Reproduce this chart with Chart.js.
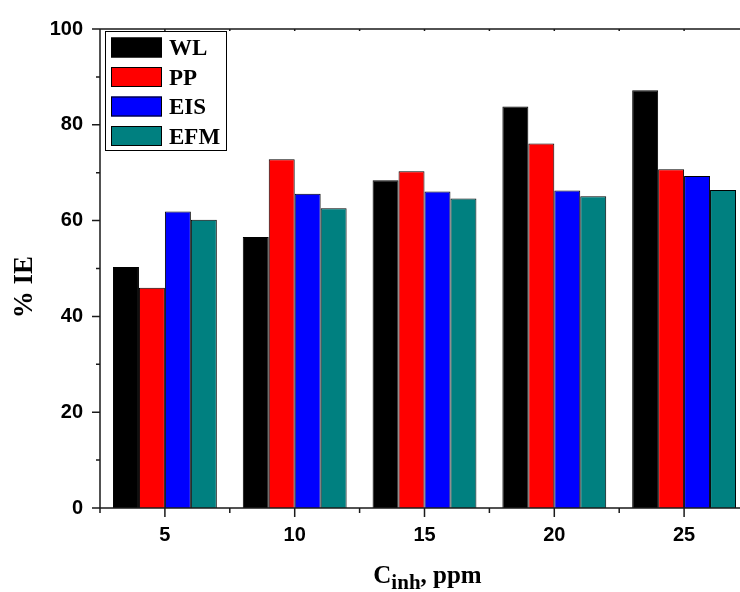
<!DOCTYPE html>
<html>
<head>
<meta charset="utf-8">
<script src="https://cdn.jsdelivr.net/npm/chart.js@4"></script>
<style>
  html, body { margin: 0; padding: 0; background: #fff; }
  #wrap { width: 740px; height: 592px; overflow: hidden; position: relative; }
</style>
</head>
<body>
<div id="wrap"><canvas id="canvas" width="760" height="592"></canvas></div>
<script>
// concentration of inhibitor (ppm) and % inhibition efficiency by method
let labels = ['5', '10', '15', '20', '25'];
let wl  = [50.3, 56.6, 68.4, 83.8, 87.2];
let pp  = [46.0, 72.8, 70.3, 76.1, 70.7];
let eis = [61.9, 65.6, 66.1, 66.3, 69.3];
let efm = [60.2, 62.6, 64.6, 65.1, 66.4];
let names = ['WL', 'PP', 'EIS', 'EFM'];
let colors = ['#000000', '#ff0000', '#0000ff', '#008080'];

let serif = "'Liberation Serif', 'Times New Roman', serif";
let sans = "'Liberation Sans', Arial, sans-serif";

let series = [wl, pp, eis, efm];
let datasets = series.map(function (vals, i) {
  return {
    label: names[i],
    data: vals,
    backgroundColor: colors[i],
    borderColor: '#000',
    borderWidth: 1,
    categoryPercentage: 0.8,
    barPercentage: 1.0
  };
});

// frame, ticks, titles and the boxed legend
let decor = {
  id: 'decor',
  afterDraw: function (chart) {
    let ctx = chart.ctx;
    let x = chart.scales.x, y = chart.scales.y;
    let a = chart.chartArea;
    ctx.save();
    ctx.strokeStyle = '#1a1a1a';
    ctx.lineWidth = 1.5;
    ctx.beginPath();
    ctx.moveTo(a.left, a.bottom); ctx.lineTo(a.left, a.top); ctx.lineTo(chart.width, a.top);
    ctx.moveTo(a.left, a.bottom); ctx.lineTo(chart.width, a.bottom);
    // y ticks
    for (let v = 0; v <= 100; v += 10) {
      let py = y.getPixelForValue(v);
      let len = v % 20 === 0 ? 8 : 4;
      ctx.moveTo(a.left - len, py); ctx.lineTo(a.left, py);
    }
    // x ticks
    let n = labels.length;
    let step = x.getPixelForTick(1) - x.getPixelForTick(0);
    for (let i = 0; i < n; i++) {
      let px = x.getPixelForTick(i);
      ctx.moveTo(px, a.bottom); ctx.lineTo(px, a.bottom + 9);
      ctx.moveTo(px, a.top); ctx.lineTo(px, a.top + 2);
      let mx = px - step / 2;
      ctx.moveTo(mx, a.bottom); ctx.lineTo(mx, a.bottom + 5);
      ctx.moveTo(mx, a.top); ctx.lineTo(mx, a.top + 2);
    }
    ctx.stroke();

    ctx.fillStyle = '#000';
    // y title
    ctx.save();
    ctx.translate(32, 287);
    ctx.rotate(-Math.PI / 2);
    ctx.font = 'bold 27px ' + serif;
    ctx.textAlign = 'center';
    ctx.textBaseline = 'alphabetic';
    ctx.fillText('% IE', 0, 0);
    ctx.restore();

    // x title with subscript
    let big = 'bold 25px ' + serif, small = 'bold 21px ' + serif;
    ctx.font = big; let w1 = ctx.measureText('C').width;
    let w3 = ctx.measureText(', ppm').width;
    ctx.font = small; let w2 = ctx.measureText('inh').width;
    let cx = (a.left + a.right) / 2 + 3;
    let sx = cx - (w1 + w2 + w3) / 2;
    let by = 583;
    ctx.textAlign = 'left';
    ctx.textBaseline = 'alphabetic';
    ctx.font = big; ctx.fillText('C', sx, by);
    ctx.font = small; ctx.fillText('inh', sx + w1, by + 6);
    ctx.font = big; ctx.fillText(', ppm', sx + w1 + w2, by);

    // legend
    ctx.lineWidth = 1;
    ctx.strokeStyle = '#000';
    ctx.strokeRect(105.5, 31.5, 121, 119);
    ctx.font = 'bold 23px ' + serif;
    for (let i = 0; i < names.length; i++) {
      let top = 37.5 + i * 29.5;
      ctx.fillStyle = colors[i];
      ctx.fillRect(111, top, 51, 20);
      ctx.strokeRect(111.5, top + 0.5, 50, 19);
      ctx.fillStyle = '#000';
      ctx.fillText(names[i], 169, top + 10 + 7.5);
    }
    ctx.restore();
  }
};

let options = {
  type: 'bar',
  data: { labels: labels, datasets: datasets },
  options: {
    responsive: false,
    animation: false,
    layout: { padding: { top: 28, right: 11, left: 0, bottom: 0 } },
    plugins: { legend: { display: false }, tooltip: { enabled: false } },
    scales: {
      x: {
        grid: { display: false, drawTicks: false },
        border: { display: false },
        ticks: { color: '#000', font: { family: sans, size: 20, weight: 'bold' }, padding: 15, maxRotation: 0 },
        afterFit: function (s) { s.height = 84; }
      },
      y: {
        min: 0, max: 100,
        grid: { display: false, drawTicks: false },
        border: { display: false },
        ticks: { stepSize: 20, color: '#000', font: { family: sans, size: 20, weight: 'bold' }, padding: 17 },
        afterFit: function (s) { s.width = 100; }
      }
    }
  },
  plugins: [decor]
};

let chart = new Chart(document.getElementById('canvas'), options);
</script>
</body>
</html>
